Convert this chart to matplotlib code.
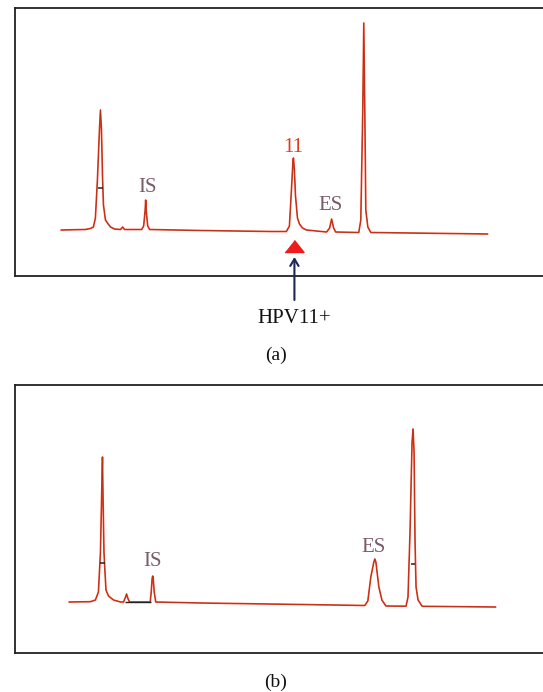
import matplotlib
matplotlib.use("Agg")
import matplotlib.pyplot as plt
import numpy as np

# ---------------- data (retention time, signal) ----------------
# Panel (a): HPV11-positive sample
time_a = [8.68, 13.21, 14.15, 14.72, 15.09, 15.47, 15.85, 16.04, 16.23, 16.42,
          16.60, 16.98, 17.36, 17.92, 18.68, 19.81, 20.19, 20.57, 23.77, 24.15,
          24.43, 24.53, 24.62, 24.91, 25.28, 34.91, 48.11, 50.94, 51.51, 51.89,
          52.17, 52.26, 52.45, 52.64, 53.02, 53.40, 53.96, 54.72, 58.49, 59.06,
          59.43, 59.81, 60.19, 64.53, 64.91, 65.28, 65.47, 65.66, 65.85, 66.23,
          66.79, 88.68]
signal_a = [0, 0.5, 1.5, 3, 12, 50, 100, 120, 100, 55,
            25, 10, 7, 3, 1, 0.5, 3, 0.5, 0.5, 4,
            20, 30, 20, 4, 0.5, -0.5, -1.5, -1.5, 4, 40,
            68, 72, 60, 35, 12, 6, 2, 0, -2, 2,
            11, 2, -2, -2.5, 10, 120, 207, 120, 20, 3,
            -2.5, -4]

# Panel (b): negative sample
time_b = [10.19, 14.15, 15.09, 15.66, 16.04, 16.32, 16.42, 16.51, 16.70, 16.89,
          17.08, 17.55, 18.49, 19.81, 20.38, 20.75, 20.94, 21.23, 21.51, 25.38,
          25.57, 25.75, 25.85, 25.94, 26.13, 26.42, 34.91, 53.77, 65.66, 66.23,
          66.79, 67.36, 67.55, 67.74, 68.30, 68.87, 69.62, 73.40, 73.77, 74.15,
          74.53, 74.72, 74.91, 75.09, 75.28, 75.66, 76.42, 90.19]
signal_b = [0, 0.3, 2, 10, 50, 120, 145, 110, 50, 30,
            12, 6, 2, 0, 0, 5, 8, 3, 0, 0,
            10, 24, 26, 24, 10, 0, -1, -2.5, -3.5, 1,
            25, 40, 43, 40, 15, 2, -4, -4.2, 5, 70,
            160, 173, 150, 60, 15, 2, -4.3, -5]

# peak labels: (text, time, signal)
labels_a = [("IS", 24.91, 43), ("11", 52.26, 83), ("ES", 59.25, 25)]
labels_b = [("IS", 25.85, 40), ("ES", 67.36, 55)]

# integration marks: (time, signal)
marks_a = [(16.04, 42)]
marks_b = [(16.42, 39), (74.72, 38)]

hpv_time = 52.45
hpv_label = "HPV11+"

# ---------------- style ----------------
RED = "#e43a1e"
DARK = "#6a1e0a"
LABEL_C = "#7b5b68"
NAVY = "#1c2858"
SERIF = ["Liberation Serif", "DejaVu Serif"]

W, H = 543, 692
fig = plt.figure(figsize=(W / 100, H / 100), dpi=100)


def make_axes(top_px, bottom_px):
    left = 15 / W
    return fig.add_axes([left, 1 - bottom_px / H, 1 - left + 0.005,
                         (bottom_px - top_px) / H])


def style(ax, ylim):
    ax.set_xlim(0, 99.62)
    ax.set_ylim(*ylim)
    ax.set_xticks([])
    ax.set_yticks([])
    for s in ("left", "top", "bottom"):
        ax.spines[s].set_linewidth(1.3)
        ax.spines[s].set_color("#222222")
    ax.spines["right"].set_visible(False)


def draw_trace(ax, t, y, marks):
    ax.plot(t, y, color=RED, lw=1.2, solid_joinstyle="round", zorder=2)
    ax.plot(t, y, color=DARK, lw=0.5, alpha=0.4, zorder=3)
    for mt, my in marks:
        ax.hlines(my, mt - 0.45, mt + 0.45, color="#222222", lw=1.1, zorder=4)


# Panel (a)
ax_a = make_axes(8, 276)
style(ax_a, (-46, 222))
draw_trace(ax_a, time_a, signal_a, marks_a)
for txt, t, y in labels_a:
    ax_a.text(t, y, txt, ha="center", va="center", fontsize=15,
              family=SERIF, color=(RED if txt == "11" else LABEL_C))

tri = [(-1, -0.63), (1, -0.63), (0, 0.63)]
ax_a.plot([hpv_time], [-16], marker=tri, ms=13.7, color="#ee1c1c",
          mec="#ee1c1c", clip_on=False, zorder=5)
ax_a.annotate("", xy=(hpv_time, -27), xytext=(hpv_time, -70),
              annotation_clip=False,
              arrowprops=dict(arrowstyle="->,head_length=0.5,head_width=0.3",
                              color=NAVY, lw=1.5, shrinkA=0, shrinkB=0))
ax_a.text(hpv_time, -88, hpv_label, ha="center", va="center", fontsize=15,
          family=SERIF, color="#111111", clip_on=False)

# Panel (b)
ax_b = make_axes(385, 653)
style(ax_b, (-51, 217))
draw_trace(ax_b, time_b, signal_b, marks_b)
ax_b.hlines(0, 20.6, 25.6, color="#222222", lw=1.0, zorder=3)
for txt, t, y in labels_b:
    ax_b.text(t, y, txt, ha="center", va="center", fontsize=15,
              family=SERIF, color=LABEL_C)

fig.text(276 / W, 1 - 355 / H, "(a)", ha="center", va="center",
         fontsize=14, family=SERIF, color="#111111")
fig.text(276 / W, 1 - 682 / H, "(b)", ha="center", va="center",
         fontsize=14, family=SERIF, color="#111111")

fig.savefig("out.png", dpi=100)
